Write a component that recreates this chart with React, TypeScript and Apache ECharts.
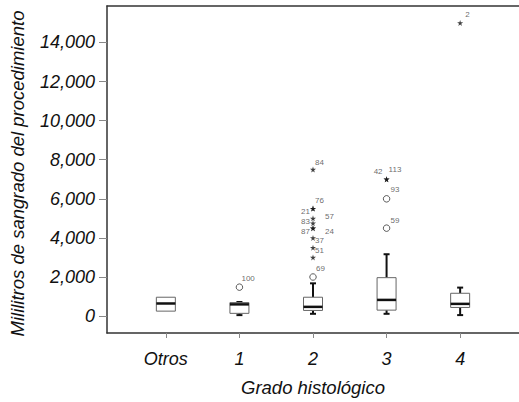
import React, { useEffect, useRef } from "react";
import * as echarts from "echarts";

const categories = ["Otros", "1", "2", "3", "4"];
const whiskerLow = [254, 50, 117, 117, 51];
const q1 = [254, 140, 290, 305, 442];
const median = [645, 600, 472, 828, 625];
const q3 = [965, 690, 965, 1966, 1168];
const whiskerHigh = [965, 720, 1676, 3165, 1458];

const circleCat = [1, 2, 3, 3];
const circleValue = [1480, 2000, 6000, 4500];
const circleId = ["100", "69", "93", "59"];

const starCat = [2, 2, 2, 2, 2, 2, 2, 2, 2, 2, 3, 3, 4];
const starValue = [7500, 5500, 5500, 5000, 4750, 4500, 4500, 4000, 3500, 3000, 7000, 7000, 15000];
const starId = ["84", "76", "21", "57", "83", "87", "24", "37", "51", "", "42", "113", "2"];

const yTicks = [0, 2000, 4000, 6000, 8000, 10000, 12000, 14000];
const xTicks = [0, 1, 2, 3, 4];

const xTitle = "Grado histológico";
const yTitle = "Mililitros de sangrado del procedimiento";

// label placement (style only)
const labelPlace: Record<string, [string, number, number]> = {
  "84": ["left", 2, -7],
  "76": ["left", 2, -8],
  "21": ["right", -3, 3],
  "57": ["left", 12, -2],
  "83": ["right", -3, -2],
  "87": ["right", -3, 3],
  "24": ["left", 12, 3],
  "37": ["left", 2, 3],
  "51": ["left", 2, 3],
  "69": ["left", 3, -9],
  "100": ["left", 2, -9],
  "42": ["right", -4, -8],
  "113": ["left", 2, -9.5],
  "93": ["left", 4, -9],
  "59": ["left", 4, -8],
  "2": ["left", 5, -8],
};

const font = "Liberation Sans, Arial, sans-serif";

function pointItem(x: number, v: number, id: string) {
  const p = labelPlace[id];
  return {
    value: [x, v],
    label: id
      ? {
          show: true,
          formatter: id,
          position: "inside",
          align: p ? p[0] : "left",
          verticalAlign: "middle",
          offset: p ? [p[1], p[2]] : [2, -8],
          fontSize: 8,
          color: "#444",
          textBorderWidth: 0,
          textBorderColor: "transparent",
          fontFamily: font,
        }
      : { show: false },
  };
}

const STAR =
  "path://M50,0 L61,35 L98,35 L68,57 L79,91 L50,70 L21,91 L32,57 L2,35 L39,35 Z";

export default function App() {
  const ref = useRef<HTMLDivElement>(null);
  useEffect(() => {
    if (!ref.current) return;
    const chart = echarts.init(ref.current, null, { renderer: "svg" });
    const boxData = categories.map((_, i) => [
      i,
      whiskerLow[i],
      q1[i],
      median[i],
      q3[i],
      whiskerHigh[i],
    ]);
    chart.setOption({
      animation: false,
      backgroundColor: "#ffffff",
      grid: { left: 107, right: 0, top: 6, bottom: 67 },
      graphic: [
        {
          type: "text",
          x: 17,
          y: 173.5,
          rotation: Math.PI / 2,
          style: {
            text: yTitle,
            fontSize: 18.5,
            fontStyle: "italic",
            fill: "#111",
            fontFamily: font,
            align: "center",
            verticalAlign: "middle",
          },
        },
      ],
      xAxis: [
        {
          type: "value",
          min: -0.8,
          max: 4.8,
          splitLine: { show: false },
          axisLine: { show: true, onZero: false, lineStyle: { color: "#333", width: 1.5 } },
          axisTick: {
            show: true,
            customValues: xTicks,
            length: 5,
            lineStyle: { color: "#888" },
          },
          axisLabel: {
            customValues: xTicks,
            formatter: (v: number) => categories[Math.round(v)] ?? "",
            margin: 17,
            fontSize: 18,
            fontStyle: "italic",
            color: "#111",
            fontFamily: font,
          },
          name: xTitle,
          nameLocation: "middle",
          nameGap: 45,
          nameTextStyle: {
            fontSize: 18.5,
            fontStyle: "italic",
            color: "#111",
            fontFamily: font,
          },
        },
        {
          type: "value",
          position: "top",
          min: -0.8,
          max: 4.8,
          splitLine: { show: false },
          axisLine: { show: true, onZero: false, lineStyle: { color: "#333", width: 1.5 } },
          axisTick: { show: false },
          axisLabel: { show: false },
        },
      ],
      yAxis: {
        type: "value",
        min: -865,
        max: 15866,
        splitLine: { show: false },
        axisLine: { show: true, onZero: false, lineStyle: { color: "#333", width: 1.5 } },
        axisTick: {
          show: true,
          customValues: yTicks,
          length: 8,
          lineStyle: { color: "#888" },
        },
        axisLabel: {
          customValues: yTicks,
          formatter: (v: number) => v.toLocaleString("en-US"),
          margin: 12,
          fontSize: 18,
          fontStyle: "italic",
          color: "#111",
          fontFamily: font,
        },
      },
      series: [
        {
          type: "custom",
          data: boxData,
          encode: { x: 0, y: [1, 2, 3, 4, 5] },
          renderItem: (params: any, api: any) => {
            const x = api.value(0);
            const lo = api.coord([x, api.value(1)]);
            const b1 = api.coord([x, api.value(2)]);
            const md = api.coord([x, api.value(3)]);
            const b3 = api.coord([x, api.value(4)]);
            const hi = api.coord([x, api.value(5)]);
            const cx = b1[0];
            const hw = 9.5;
            const cw = 3;
            const children: any[] = [];
            if (hi[1] < b3[1] - 0.5) {
              children.push({
                type: "line",
                shape: { x1: cx, y1: hi[1], x2: cx, y2: b3[1] },
                style: { stroke: "#111", lineWidth: 2 },
              });
              children.push({
                type: "line",
                shape: { x1: cx - cw, y1: hi[1], x2: cx + cw, y2: hi[1] },
                style: { stroke: "#111", lineWidth: 2 },
              });
            }
            if (lo[1] > b1[1] + 0.5) {
              children.push({
                type: "line",
                shape: { x1: cx, y1: b1[1], x2: cx, y2: lo[1] },
                style: { stroke: "#111", lineWidth: 2 },
              });
              children.push({
                type: "line",
                shape: { x1: cx - cw, y1: lo[1], x2: cx + cw, y2: lo[1] },
                style: { stroke: "#111", lineWidth: 2 },
              });
            }
            children.push({
              type: "rect",
              shape: { x: cx - hw, y: b3[1], width: hw * 2, height: b1[1] - b3[1] },
              style: { fill: "#ffffff", stroke: "#666", lineWidth: 1 },
            });
            children.push({
              type: "line",
              shape: { x1: cx - hw, y1: md[1], x2: cx + hw, y2: md[1] },
              style: { stroke: "#111", lineWidth: 2.5 },
            });
            return { type: "group", children };
          },
          z: 2,
        },
        {
          type: "scatter",
          symbol: "circle",
          symbolSize: 6.5,
          itemStyle: { color: "#ffffff", borderColor: "#333", borderWidth: 1 },
          data: circleCat.map((c, i) => pointItem(c, circleValue[i], circleId[i])),
          z: 3,
        },
        {
          type: "scatter",
          symbol: STAR,
          symbolSize: 6,
          itemStyle: { color: "#111" },
          data: starCat.map((c, i) => pointItem(c, starValue[i], starId[i])),
          z: 3,
        },
      ],
    });
    return () => chart.dispose();
  }, []);
  return (
    <div
      ref={ref}
      style={{ position: "fixed", left: 0, top: 0, width: 519, height: 402 }}
    />
  );
}
